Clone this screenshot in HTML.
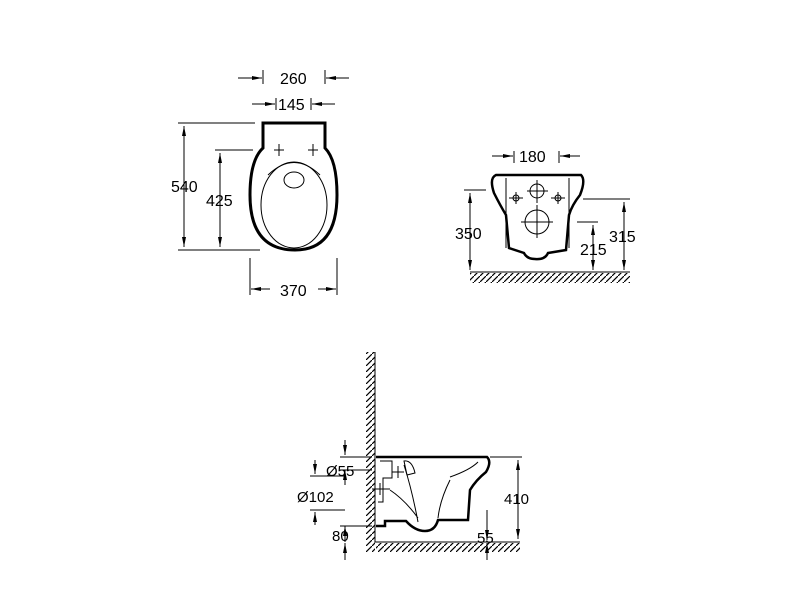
<!DOCTYPE html>
<html><head><style>
html,body{margin:0;padding:0;background:#fff;}
svg{display:block;}
text{font-family:"Liberation Sans",sans-serif;fill:#000;}
</style></head><body>
<svg width="800" height="600" viewBox="0 0 800 600" xmlns="http://www.w3.org/2000/svg">
<defs>
<pattern id="h" width="6" height="6" patternUnits="userSpaceOnUse">
<path d="M0,6 L6,0" stroke="#000" stroke-width="1.2"/>
</pattern>
<marker id="a" viewBox="0 0 10 10" refX="10" refY="5" markerUnits="userSpaceOnUse" markerWidth="10" markerHeight="10" orient="auto-start-reverse"><path d="M0,3 L10,5 L0,7z" fill="#000"/></marker>
</defs>
<g stroke="#000" fill="none" stroke-width="1">
<!-- top view -->
<path d="M263,123 H325 V148 Q337,160 337,195 Q337,250 295,250 Q250,250 250,195 Q250,160 263,148 Z" stroke-width="3"/>
<ellipse cx="294" cy="205" rx="33" ry="43"/>
<path d="M268,175 Q294,150 320,175"/>
<ellipse cx="294" cy="180" rx="10" ry="8"/>
<path d="M274,150 h10 M279,144 v12 M308,150 h10 M313,144 v12"/>
<path d="M178,123 H255 M215,150 H253 M178,250 H260"/>
<g marker-start="url(#a)" marker-end="url(#a)">
<path d="M184,126 V247"/><path d="M220,153 V247"/>
</g>
<path d="M263,70 V84 M325,70 V84 M276,98 V110 M311,98 V110 M250,258 V295 M337,258 V295"/>
<g marker-end="url(#a)">
<path d="M238,78 H262"/><path d="M349,78 H326"/><path d="M252,104 H275"/><path d="M335,104 H312"/><path d="M270,289 H251"/><path d="M318,289 H336"/>
</g>
<!-- front view -->
<path d="M496,175 H581 Q586,180 580,195 Q572,205 569,215 L566,250 L548,253 Q545,260 535,259 Q527,259 524,253 L509,248 L506,215 Q500,205 494,193 Q489,178 496,175 Z" stroke-width="2.5"/>
<path d="M506,178 V248 M569,178 V248"/>
<circle cx="537" cy="191" r="7"/><circle cx="537" cy="222" r="12"/>
<circle cx="516" cy="198" r="3"/><circle cx="558" cy="198" r="3"/>
<path d="M537,180 V203 M527,191 H548 M537,205 V238 M521,222 H553 M509,198 H523 M551,198 H565 M516,192 V204 M558,192 V204"/>
<path d="M470,272 H630"/>
<rect x="470" y="273" width="160" height="10" fill="url(#h)" stroke="none"/>
<path d="M464,190 H486 M583,199 H630 M577,222 H598"/>
<g marker-start="url(#a)" marker-end="url(#a)">
<path d="M470,193 V270"/><path d="M624,202 V270"/><path d="M593,225 V270"/>
</g>
<path d="M514,151 V163 M559,151 V163"/>
<g marker-end="url(#a)"><path d="M492,156 H513"/><path d="M580,156 H560"/></g>
<!-- side view -->
<rect x="366" y="352" width="9" height="200" fill="url(#h)" stroke="none"/>
<path d="M375,352 V542 H520"/>
<rect x="376" y="543" width="144" height="9" fill="url(#h)" stroke="none"/>
<path d="M376,457 H487 Q492,462 486,472 Q476,480 470,490 L468,520 H438 Q435,531 425,531 Q415,531 406,521 L385,521 V526 H376" stroke-width="2.5"/>
<path d="M380,461 H392 V478 H383 V502 H378 M392,472 H404 M398,466 V478 M404,461 Q412,460 415,473 L407,475 Z"/>
<path d="M404,465 Q412,490 418,522 M390,490 Q405,500 418,518 M450,477 Q470,470 478,462 M450,480 Q440,500 438,518"/>
<path d="M372,489 H390 M380,483 V495"/>
<path d="M340,457 H372 M340,470 H372 M310,476 H345 M310,510 H345 M340,526 H372 M490,457 H522"/>
<g marker-end="url(#a)">
<path d="M345,440 V455"/><path d="M345,485 V470"/><path d="M315,460 V474"/><path d="M315,525 V512"/><path d="M345,542 V526"/><path d="M345,560 V543"/><path d="M487,510 V540"/><path d="M487,560 V543"/>
</g>
<path d="M518,460 V539" marker-start="url(#a)" marker-end="url(#a)"/>
</g>
<g font-size="16">
<text x="280" y="84">260</text>
<text x="278" y="110">145</text>
<text x="171" y="192">540</text>
<text x="206" y="206">425</text>
<text x="280" y="296">370</text>
<text x="519" y="162">180</text>
<text x="455" y="239">350</text>
<text x="580" y="255">215</text>
<text x="609" y="242">315</text>
</g>
<g font-size="15">
<text x="326" y="476">Ø55</text>
<text x="297" y="502">Ø102</text>
<text x="332" y="541">80</text>
<text x="477" y="543">55</text>
<text x="504" y="504">410</text>
</g>
</svg>
</body></html>
